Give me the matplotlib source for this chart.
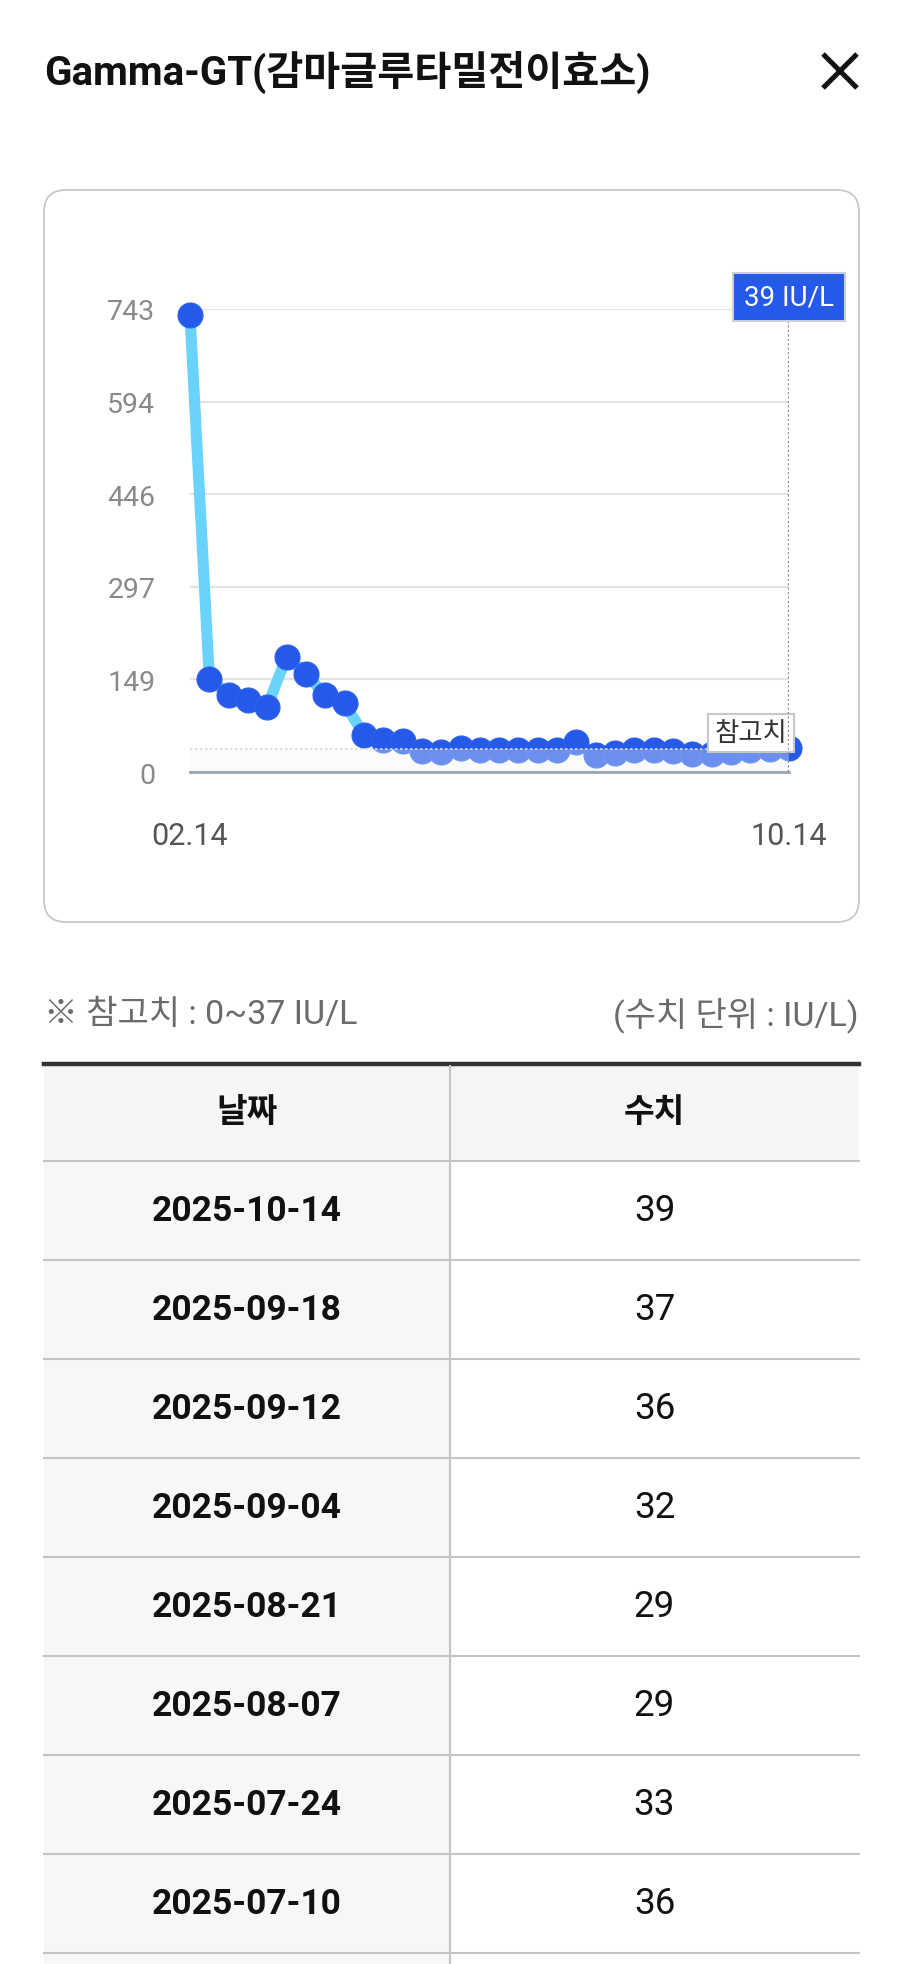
import numpy as np
import matplotlib
matplotlib.use("Agg")
import matplotlib.pyplot as plt
from matplotlib.patches import FancyBboxPatch, Rectangle

plt.rcParams['font.family'] = ['Roboto', 'Noto Sans CJK KR', 'DejaVu Sans']

# Gamma-GT series, oldest (02.14) -> newest (10.14)
gamma_values = [733, 150, 124, 115, 105, 185, 158, 123, 110, 60, 51, 49,
                33, 32, 38, 36, 35, 36, 35, 36, 48, 27, 31, 35,
                36, 33, 29, 29, 32, 36, 37, 39]
x_labels = ["02.14", "10.14"]
ref_low, ref_high = 0, 37
y_max = 743
unit = "IU/L"

# table rows (newest first)
table_dates = ["2025-10-14", "2025-09-18", "2025-09-12", "2025-09-04",
               "2025-08-21", "2025-08-07", "2025-07-24", "2025-07-10"]
table_values = gamma_values[::-1][:len(table_dates)]

W, H = 904, 1965
fig = plt.figure(figsize=(W / 100, H / 100), dpi=100)

# page layer in pixel coordinates
bg = fig.add_axes([0, 0, 1, 1])
bg.set_xlim(0, W)
bg.set_ylim(H, 0)
bg.axis("off")

bg.text(44, 72, "Gamma-GT(감마글루타밀전이효소)", fontsize=29, fontweight="bold",
        color="#111111", ha="left", va="center")
bg.plot([823, 857], [55, 89], color="#111111", lw=3.6, solid_capstyle="butt")
bg.plot([857, 823], [55, 89], color="#111111", lw=3.6, solid_capstyle="butt")

bg.add_patch(FancyBboxPatch((44, 191), 815, 732, boxstyle="round,pad=0,rounding_size=22",
                            fc="white", ec="#c8c8c8", lw=1.3))

bg.text(44, 1015, "※ 참고치 : %d~%d %s" % (ref_low, ref_high, unit), fontsize=24.5,
        color="#6b6b6b", ha="left", va="center")
bg.text(859, 1015, "(수치 단위 : %s)" % unit, fontsize=24.5, color="#6b6b6b",
        ha="right", va="center")

# table
tl, tr, tmid = 44, 859, 450
head_top, head_bot = 1065, 1162
row_h = 99.0
bg.add_patch(Rectangle((tl, head_top), tr - tl, head_bot - head_top, fc="#f6f6f6", ec="none"))
n_rows = len(table_dates) + 1
bg.add_patch(Rectangle((tl, head_bot), tmid - tl, row_h * n_rows, fc="#f7f7f7", ec="none"))
bg.plot([tl, tr], [head_top, head_top], color="#333333", lw=3.2)
bg.plot([tmid, tmid], [head_top + 2, H], color="#c4c4c4", lw=1.5)
bg.text((tl + tmid) / 2, (head_top + head_bot) / 2, "날짜", fontsize=24, fontweight="bold",
        ha="center", va="center", color="#111111")
bg.text((tmid + tr) / 2, (head_top + head_bot) / 2, "수치", fontsize=24, fontweight="bold",
        ha="center", va="center", color="#111111")
for i in range(n_rows):
    y = head_bot + i * row_h
    bg.plot([tl, tr], [y, y], color="#c4c4c4", lw=1.5)
for i, (d, v) in enumerate(zip(table_dates, table_values)):
    yc = head_bot + (i + 0.5) * row_h
    bg.text((tl + tmid) / 2, yc, d, fontsize=25.5, fontweight="bold", ha="center", va="center", color="#111111")
    bg.text((tmid + tr) / 2, yc, str(v), fontsize=26.5, ha="center", va="center", color="#111111")

# chart
left, right, top, bottom = 190, 789, 310, 773
ax = fig.add_axes([left / W, 1 - bottom / H, (right - left) / W, (bottom - top) / H])
ax.set_facecolor("none")
x = np.arange(len(gamma_values))
ax.set_xlim(0, len(gamma_values) - 1)
ax.set_ylim(0, y_max)

yt = np.linspace(0, y_max, 6)
ax.set_yticks(yt)
ax.set_yticklabels(["%d" % round(v) for v in yt])
ax.set_xticks([0, len(gamma_values) - 1])
ax.set_xticklabels(x_labels)
ax.tick_params(axis="y", length=0, pad=25, labelsize=20.5, labelcolor="#8a8a8a")
ax.tick_params(axis="x", length=0, pad=35, labelsize=22, labelcolor="#555555")
for s in ax.spines.values():
    s.set_visible(False)
ax.grid(axis="y", color="#e2e2e2", lw=1.5)
ax.grid(axis="x", visible=False)
ax.set_axisbelow(True)

ax.plot(x, gamma_values, color="#69d3fb", lw=8, zorder=3, clip_on=False)
ax.plot(x, gamma_values, ls="none", marker="o", ms=18, mfc="#2459e9", mec="#2f62ea",
        mew=0.8, zorder=4, clip_on=False)

# reference range overlay
ax.axhspan(ref_low, ref_high, fc="#eef6fb", alpha=0.35, ec="none", zorder=5)
ax.axhline(ref_high, color="#d4dde2", lw=1.2, ls=(0, (1.5, 1.5)), zorder=5)
ax.axhline(0, color="#9aa6ad", lw=2, zorder=6, clip_on=False)

last = len(gamma_values) - 1
ax.axvline(last, ymin=0, ymax=1.0, color="#8c8c8c", lw=1.6, ls=(0, (1, 1)), zorder=8)
ax.text(last, 1.026, "%d %s" % (gamma_values[-1], unit), transform=ax.get_xaxis_transform(),
        fontsize=20, color="white", ha="center", va="center", zorder=9,
        bbox=dict(boxstyle="square,pad=0.38", fc="#2459e9", ec="#c9cfd8", lw=1.5))
ax.annotate("참고치", xy=(last, ref_high), xytext=(-38, 16), textcoords="offset pixels",
            fontsize=19, color="#333333", ha="center", va="center", zorder=7,
            bbox=dict(boxstyle="square,pad=0.25", fc="white", ec="#c8c8c8", lw=1.5))

fig.savefig("out.png", dpi=100)
